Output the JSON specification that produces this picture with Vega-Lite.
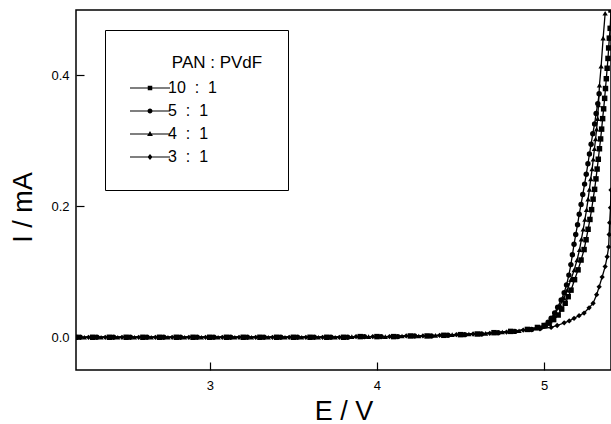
{
"$schema": "https://vega.github.io/schema/vega-lite/v6.json",
"width": 535, "height": 360,
"autosize": {"type": "none"},
"padding": {"left": 76, "top": 10, "right": 0, "bottom": 54},
"background": "white",
"config": {
  "view": {"stroke": "black", "strokeWidth": 1.5},
  "font": "Liberation Sans",
  "axis": {"domain": false, "grid": false, "tickColor": "black", "tickWidth": 1.2, "labelColor": "black", "titleColor": "black", "labelFont": "Liberation Sans", "titleFont": "Liberation Sans", "titleFontWeight": "normal"}
},
"data": {"values": [
{"s":"10 : 1","E":2.2,"I":0},{"s":"10 : 1","E":2.3,"I":0},{"s":"10 : 1","E":2.4,"I":0},{"s":"10 : 1","E":2.5,"I":0},{"s":"10 : 1","E":2.6,"I":0},{"s":"10 : 1","E":2.7,"I":0},{"s":"10 : 1","E":2.8,"I":0},{"s":"10 : 1","E":2.9,"I":0},{"s":"10 : 1","E":3.0,"I":0},{"s":"10 : 1","E":3.1,"I":0},{"s":"10 : 1","E":3.2,"I":0},{"s":"10 : 1","E":3.3,"I":0},{"s":"10 : 1","E":3.4,"I":0},{"s":"10 : 1","E":3.5,"I":0},{"s":"10 : 1","E":3.6,"I":0},{"s":"10 : 1","E":3.7,"I":0},{"s":"10 : 1","E":3.8,"I":0},{"s":"10 : 1","E":3.9,"I":0.001},{"s":"10 : 1","E":4.0,"I":0.001},{"s":"10 : 1","E":4.1,"I":0.001},{"s":"10 : 1","E":4.2,"I":0.002},{"s":"10 : 1","E":4.3,"I":0.002},{"s":"10 : 1","E":4.4,"I":0.003},{"s":"10 : 1","E":4.5,"I":0.004},{"s":"10 : 1","E":4.6,"I":0.005},{"s":"10 : 1","E":4.7,"I":0.007},{"s":"10 : 1","E":4.8,"I":0.009},{"s":"10 : 1","E":4.9,"I":0.012},
{"s":"10 : 1","E":4.96,"I":0.015},{"s":"10 : 1","E":5.0,"I":0.018},{"s":"10 : 1","E":5.03,"I":0.0215},{"s":"10 : 1","E":5.057,"I":0.027},{"s":"10 : 1","E":5.084,"I":0.034},{"s":"10 : 1","E":5.105,"I":0.043},{"s":"10 : 1","E":5.126,"I":0.052},{"s":"10 : 1","E":5.144,"I":0.062},{"s":"10 : 1","E":5.161,"I":0.072},{"s":"10 : 1","E":5.182,"I":0.088},{"s":"10 : 1","E":5.203,"I":0.103},{"s":"10 : 1","E":5.221,"I":0.118},{"s":"10 : 1","E":5.239,"I":0.134},{"s":"10 : 1","E":5.251,"I":0.149},{"s":"10 : 1","E":5.263,"I":0.165},{"s":"10 : 1","E":5.274,"I":0.18},{"s":"10 : 1","E":5.284,"I":0.195},{"s":"10 : 1","E":5.293,"I":0.211},{"s":"10 : 1","E":5.302,"I":0.226},{"s":"10 : 1","E":5.31,"I":0.242},{"s":"10 : 1","E":5.317,"I":0.257},{"s":"10 : 1","E":5.324,"I":0.272},{"s":"10 : 1","E":5.331,"I":0.288},{"s":"10 : 1","E":5.338,"I":0.303},{"s":"10 : 1","E":5.344,"I":0.318},{"s":"10 : 1","E":5.35,"I":0.334},{"s":"10 : 1","E":5.356,"I":0.349},{"s":"10 : 1","E":5.362,"I":0.365},{"s":"10 : 1","E":5.367,"I":0.38},{"s":"10 : 1","E":5.372,"I":0.395},{"s":"10 : 1","E":5.377,"I":0.411},{"s":"10 : 1","E":5.382,"I":0.426},{"s":"10 : 1","E":5.386,"I":0.442},{"s":"10 : 1","E":5.39,"I":0.457},{"s":"10 : 1","E":5.395,"I":0.472},{"s":"10 : 1","E":5.4,"I":0.5},
{"s":"5 : 1","E":2.225,"I":0},{"s":"5 : 1","E":2.325,"I":0},{"s":"5 : 1","E":2.425,"I":0},{"s":"5 : 1","E":2.525,"I":0},{"s":"5 : 1","E":2.625,"I":0},{"s":"5 : 1","E":2.725,"I":0},{"s":"5 : 1","E":2.825,"I":0},{"s":"5 : 1","E":2.925,"I":0},{"s":"5 : 1","E":3.025,"I":0},{"s":"5 : 1","E":3.125,"I":0},{"s":"5 : 1","E":3.225,"I":0},{"s":"5 : 1","E":3.325,"I":0},{"s":"5 : 1","E":3.425,"I":0},{"s":"5 : 1","E":3.525,"I":0},{"s":"5 : 1","E":3.625,"I":0},{"s":"5 : 1","E":3.725,"I":0},{"s":"5 : 1","E":3.825,"I":0},{"s":"5 : 1","E":3.925,"I":0.001},{"s":"5 : 1","E":4.025,"I":0.001},{"s":"5 : 1","E":4.125,"I":0.001},{"s":"5 : 1","E":4.225,"I":0.002},{"s":"5 : 1","E":4.325,"I":0.002},{"s":"5 : 1","E":4.425,"I":0.003},{"s":"5 : 1","E":4.525,"I":0.004},{"s":"5 : 1","E":4.625,"I":0.005},{"s":"5 : 1","E":4.725,"I":0.007},{"s":"5 : 1","E":4.825,"I":0.009},{"s":"5 : 1","E":4.925,"I":0.012},
{"s":"5 : 1","E":4.976,"I":0.014},{"s":"5 : 1","E":5.003,"I":0.018},{"s":"5 : 1","E":5.024,"I":0.023},{"s":"5 : 1","E":5.042,"I":0.029},{"s":"5 : 1","E":5.063,"I":0.037},{"s":"5 : 1","E":5.081,"I":0.046},{"s":"5 : 1","E":5.102,"I":0.057},{"s":"5 : 1","E":5.12,"I":0.068},{"s":"5 : 1","E":5.134,"I":0.08},{"s":"5 : 1","E":5.148,"I":0.095},{"s":"5 : 1","E":5.16,"I":0.111},{"s":"5 : 1","E":5.169,"I":0.126},{"s":"5 : 1","E":5.179,"I":0.142},{"s":"5 : 1","E":5.189,"I":0.157},{"s":"5 : 1","E":5.2,"I":0.172},{"s":"5 : 1","E":5.21,"I":0.188},{"s":"5 : 1","E":5.221,"I":0.203},{"s":"5 : 1","E":5.231,"I":0.218},{"s":"5 : 1","E":5.242,"I":0.234},{"s":"5 : 1","E":5.252,"I":0.249},{"s":"5 : 1","E":5.262,"I":0.265},{"s":"5 : 1","E":5.271,"I":0.28},{"s":"5 : 1","E":5.281,"I":0.295},{"s":"5 : 1","E":5.291,"I":0.311},{"s":"5 : 1","E":5.302,"I":0.326},{"s":"5 : 1","E":5.311,"I":0.342},{"s":"5 : 1","E":5.321,"I":0.357},{"s":"5 : 1","E":5.329,"I":0.372},
{"s":"4 : 1","E":2.25,"I":0},{"s":"4 : 1","E":2.35,"I":0},{"s":"4 : 1","E":2.45,"I":0},{"s":"4 : 1","E":2.55,"I":0},{"s":"4 : 1","E":2.65,"I":0},{"s":"4 : 1","E":2.75,"I":0},{"s":"4 : 1","E":2.85,"I":0},{"s":"4 : 1","E":2.95,"I":0},{"s":"4 : 1","E":3.05,"I":0},{"s":"4 : 1","E":3.15,"I":0},{"s":"4 : 1","E":3.25,"I":0},{"s":"4 : 1","E":3.35,"I":0},{"s":"4 : 1","E":3.45,"I":0},{"s":"4 : 1","E":3.55,"I":0},{"s":"4 : 1","E":3.65,"I":0},{"s":"4 : 1","E":3.75,"I":0},{"s":"4 : 1","E":3.85,"I":0.001},{"s":"4 : 1","E":3.95,"I":0.001},{"s":"4 : 1","E":4.05,"I":0.001},{"s":"4 : 1","E":4.15,"I":0.002},{"s":"4 : 1","E":4.25,"I":0.002},{"s":"4 : 1","E":4.35,"I":0.003},{"s":"4 : 1","E":4.45,"I":0.004},{"s":"4 : 1","E":4.55,"I":0.005},{"s":"4 : 1","E":4.65,"I":0.006},{"s":"4 : 1","E":4.75,"I":0.008},{"s":"4 : 1","E":4.85,"I":0.01},{"s":"4 : 1","E":4.95,"I":0.014},
{"s":"4 : 1","E":5.012,"I":0.018},{"s":"4 : 1","E":5.036,"I":0.025},{"s":"4 : 1","E":5.06,"I":0.034},{"s":"4 : 1","E":5.096,"I":0.049},{"s":"4 : 1","E":5.118,"I":0.06},{"s":"4 : 1","E":5.138,"I":0.072},{"s":"4 : 1","E":5.16,"I":0.088},{"s":"4 : 1","E":5.18,"I":0.103},{"s":"4 : 1","E":5.197,"I":0.118},{"s":"4 : 1","E":5.212,"I":0.134},{"s":"4 : 1","E":5.223,"I":0.15},{"s":"4 : 1","E":5.234,"I":0.165},{"s":"4 : 1","E":5.244,"I":0.18},{"s":"4 : 1","E":5.254,"I":0.195},{"s":"4 : 1","E":5.263,"I":0.211},{"s":"4 : 1","E":5.271,"I":0.226},{"s":"4 : 1","E":5.279,"I":0.242},{"s":"4 : 1","E":5.287,"I":0.257},{"s":"4 : 1","E":5.294,"I":0.272},{"s":"4 : 1","E":5.301,"I":0.288},{"s":"4 : 1","E":5.308,"I":0.303},{"s":"4 : 1","E":5.314,"I":0.318},{"s":"4 : 1","E":5.32,"I":0.334},{"s":"4 : 1","E":5.325,"I":0.355},{"s":"4 : 1","E":5.331,"I":0.385},{"s":"4 : 1","E":5.341,"I":0.414},{"s":"4 : 1","E":5.353,"I":0.457},{"s":"4 : 1","E":5.365,"I":0.495},
{"s":"3 : 1","E":2.275,"I":0},{"s":"3 : 1","E":2.375,"I":0},{"s":"3 : 1","E":2.475,"I":0},{"s":"3 : 1","E":2.575,"I":0},{"s":"3 : 1","E":2.675,"I":0},{"s":"3 : 1","E":2.775,"I":0},{"s":"3 : 1","E":2.875,"I":0},{"s":"3 : 1","E":2.975,"I":0},{"s":"3 : 1","E":3.075,"I":0},{"s":"3 : 1","E":3.175,"I":0},{"s":"3 : 1","E":3.275,"I":0},{"s":"3 : 1","E":3.375,"I":0},{"s":"3 : 1","E":3.475,"I":0},{"s":"3 : 1","E":3.575,"I":0},{"s":"3 : 1","E":3.675,"I":0},{"s":"3 : 1","E":3.775,"I":0},{"s":"3 : 1","E":3.875,"I":0.001},{"s":"3 : 1","E":3.975,"I":0.001},{"s":"3 : 1","E":4.075,"I":0.001},{"s":"3 : 1","E":4.175,"I":0.002},{"s":"3 : 1","E":4.275,"I":0.002},{"s":"3 : 1","E":4.375,"I":0.003},{"s":"3 : 1","E":4.475,"I":0.004},{"s":"3 : 1","E":4.575,"I":0.005},{"s":"3 : 1","E":4.675,"I":0.006},{"s":"3 : 1","E":4.775,"I":0.008},{"s":"3 : 1","E":4.875,"I":0.011},{"s":"3 : 1","E":4.975,"I":0.013},
{"s":"3 : 1","E":5.042,"I":0.015},{"s":"3 : 1","E":5.078,"I":0.018},{"s":"3 : 1","E":5.12,"I":0.022},{"s":"3 : 1","E":5.15,"I":0.025},{"s":"3 : 1","E":5.179,"I":0.029},{"s":"3 : 1","E":5.209,"I":0.033},{"s":"3 : 1","E":5.239,"I":0.037},{"s":"3 : 1","E":5.269,"I":0.045},{"s":"3 : 1","E":5.293,"I":0.052},{"s":"3 : 1","E":5.314,"I":0.065},{"s":"3 : 1","E":5.329,"I":0.077},{"s":"3 : 1","E":5.347,"I":0.092},{"s":"3 : 1","E":5.365,"I":0.108},{"s":"3 : 1","E":5.377,"I":0.123},{"s":"3 : 1","E":5.386,"I":0.138},{"s":"3 : 1","E":5.389,"I":0.157},{"s":"3 : 1","E":5.392,"I":0.175},{"s":"3 : 1","E":5.397,"I":0.198},{"s":"3 : 1","E":5.4,"I":0.225}
]},
"encoding": {
  "x": {"field": "E", "type": "quantitative", "scale": {"domain": [2.2, 5.4], "nice": false, "zero": false},
        "axis": {"values": [3, 4, 5], "format": "d", "tickSize": -8, "labelPadding": 17, "labelFontSize": 13, "title": "E / V", "titleFontSize": 27, "titlePadding": 6}},
  "y": {"field": "I", "type": "quantitative", "scale": {"domain": [-0.05, 0.5], "nice": false, "zero": false},
        "axis": {"values": [0, 0.2, 0.4], "format": ".1f", "tickSize": -8, "labelPadding": 15, "labelFontSize": 13, "title": "I / mA", "titleFontSize": 27, "titlePadding": 13, "titleY": 197}}
},
"layer": [
  {"mark": {"type": "line", "color": "black", "strokeWidth": 1.3, "clip": true},
   "encoding": {"detail": {"field": "s", "type": "nominal"}}},
  {"mark": {"type": "point", "filled": true, "color": "black", "opacity": 1, "clip": true},
   "encoding": {
     "shape": {"field": "s", "type": "nominal", "scale": {"domain": ["10 : 1", "5 : 1", "4 : 1", "3 : 1"], "range": ["square", "circle", "triangle-up", "diamond"]}, "legend": null},
     "size": {"field": "s", "type": "nominal", "scale": {"domain": ["10 : 1", "5 : 1", "4 : 1", "3 : 1"], "range": [30, 28, 42, 36]}, "legend": null}
   }},
  {"transform": [{"filter": "datum.E > 100"}],
   "mark": {"type": "point", "filled": true, "color": "black", "opacity": 1},
   "encoding": {
     "shape": {"field": "s", "type": "nominal",
       "scale": {"domain": ["10 : 1", "5 : 1", "4 : 1", "3 : 1"],
                 "range": ["M-4,-0.12H4V0.12H-4ZM-0.45,-0.45H0.45V0.45H-0.45Z", "M-4,-0.12H4V0.12H-4ZM0.5,0A0.5,0.5,0,1,1,-0.5,0A0.5,0.5,0,1,1,0.5,0Z", "M-4,-0.12H4V0.12H-4ZM0,-0.62L0.58,0.42H-0.58Z", "M-4,-0.12H4V0.12H-4ZM0,-0.6L0.5,0L0,0.6L-0.5,0Z"]},
       "legend": {"title": "PAN : PVdF", "orient": "none", "legendX": 29, "legendY": 20, "direction": "vertical",
         "padding": 25, "strokeColor": "black", "fillColor": "white",
         "titleFontSize": 17, "titleFont": "Liberation Sans", "titleFontWeight": "normal", "titleColor": "black", "titlePadding": 8,
         "titleAnchor": "end", "titleAlign": "center",
         "labelFontSize": 16, "labelFont": "Liberation Sans", "labelColor": "black", "labelAlign": "left", "labelOffset": 10, "labelLimit": 200,
         "labelExpr": "replace(datum.label, regexp(' ', 'g'), '\u00a0\u00a0')",
         "rowPadding": 7, "symbolSize": 100, "symbolOffset": 12,
         "symbolFillColor": "black", "symbolStrokeColor": "black", "symbolStrokeWidth": 0}
     }
   }}
],
"resolve": {"scale": {"shape": "independent", "size": "independent"}, "legend": {"shape": "independent"}}
}
